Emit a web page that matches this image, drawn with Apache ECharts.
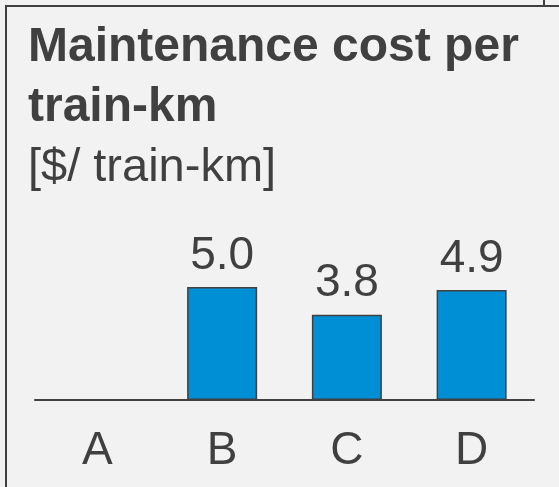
<!DOCTYPE html>
<html>
<head>
<meta charset="utf-8">
<style>
  html, body { margin: 0; padding: 0; background: #f2f2f2; }
  #chart { width: 559px; height: 487px; }
</style>
<script src="https://cdn.jsdelivr.net/npm/echarts@6/dist/echarts.min.js"></script>
</head>
<body>
<div id="chart"></div>
<script>
// Maintenance cost per train-km
var categories = ['A', 'B', 'C', 'D'];
var costValues = [null, 5.0, 3.77, 4.87];
var titleLines = ['Maintenance cost per', 'train-km'];
var unitText = '[$/ train-km]';

(function () {
  var ink = '#404040';
  var blue = '#008fd4';
  var font = '"Liberation Sans", Arial, sans-serif';

  var chart = echarts.init(document.getElementById('chart'), null, { renderer: 'canvas' });
  chart.setOption({
    animation: false,
    backgroundColor: '#f2f2f2',
    title: {
      text: titleLines.join('\n'),
      subtext: unitText,
      left: 23,
      top: 13,
      itemGap: 0,
      textStyle: { color: ink, fontSize: 48, fontWeight: 'bold', fontFamily: font, lineHeight: 60 },
      subtextStyle: { color: ink, fontSize: 47, fontFamily: font, lineHeight: 60 }
    },
    grid: { left: 35, right: 25, top: 174, bottom: 87 },
    xAxis: {
      type: 'category',
      data: categories,
      axisLine: { lineStyle: { color: ink, width: 2 } },
      axisTick: { show: false },
      axisLabel: { color: ink, fontSize: 46, fontFamily: font, margin: 28 }
    },
    yAxis: {
      type: 'value',
      min: 0,
      max: 10,
      show: false,
      splitLine: { show: false }
    },
    series: [{
      type: 'bar',
      data: costValues,
      barWidth: 70,
      itemStyle: { color: blue, borderColor: ink, borderWidth: 1.5 },
      label: {
        show: true,
        position: 'top',
        distance: 8,
        color: ink,
        fontSize: 46,
        fontFamily: font,
        formatter: function (p) { return p.value == null ? '' : p.value.toFixed(1); }
      }
    }],
    graphic: [
      { type: 'line', shape: { x1: 6, y1: 5, x2: 6, y2: 487 }, style: { stroke: ink, lineWidth: 2 } },
      { type: 'line', shape: { x1: 5, y1: 6, x2: 559, y2: 6 }, style: { stroke: ink, lineWidth: 2 } },
      { type: 'line', shape: { x1: 544, y1: 0, x2: 544, y2: 6 }, style: { stroke: ink, lineWidth: 2 } }
    ]
  });
  window.addEventListener('resize', function () { chart.resize(); });
})();
</script>
</body>
</html>
